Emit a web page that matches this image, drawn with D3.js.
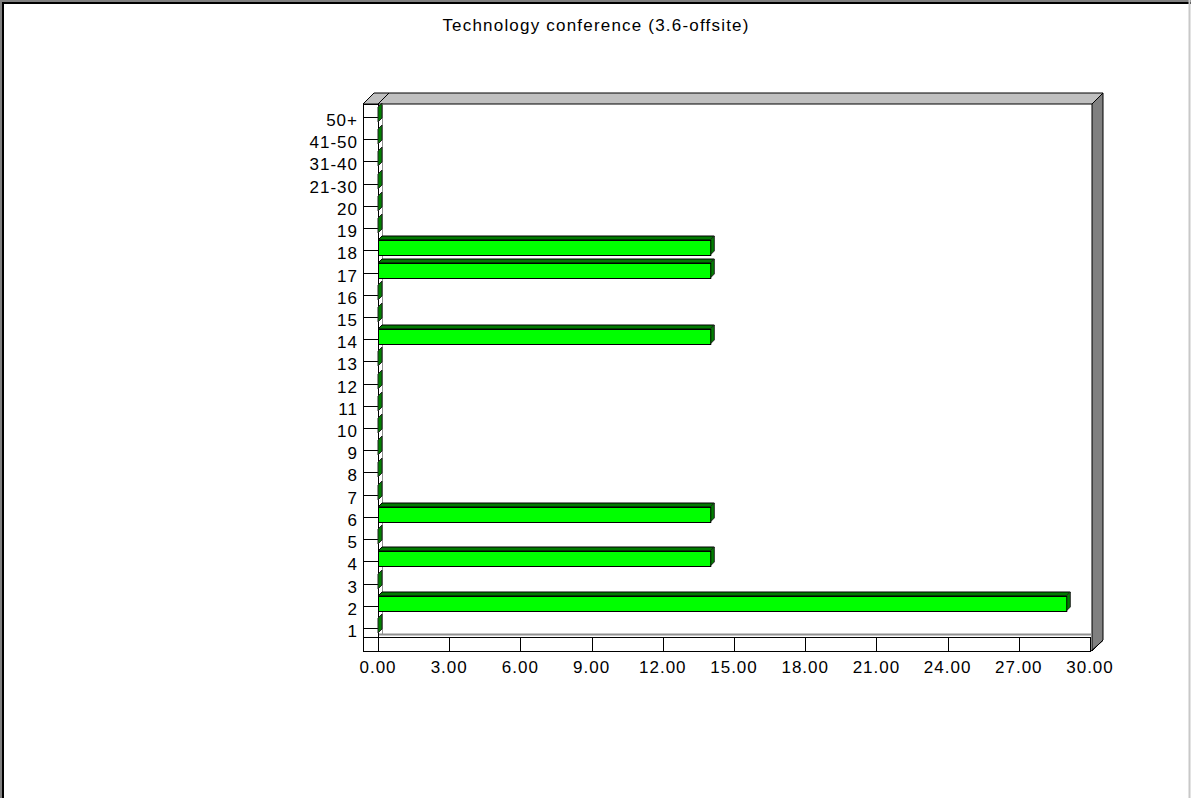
<!DOCTYPE html>
<html>
<head>
<meta charset="utf-8">
<script src="https://cdn.jsdelivr.net/npm/d3@7"></script>
<style>
  html, body { margin: 0; padding: 0; background: #ffffff; }
  svg { display: block; }
  text { font-family: "Liberation Sans", Arial, sans-serif; fill: #000; }
</style>
</head>
<body>
<svg id="chart" width="1191" height="798"></svg>
<script>
// ---- data ----
const title = "Technology conference (3.6-offsite)";
const categories = ["1","2","3","4","5","6","7","8","9","10","11","12","13","14","15","16","17","18","19","20","21-30","31-40","41-50","50+"];
const values = [0, 29, 0, 14, 0, 14, 0, 0, 0, 0, 0, 0, 0, 14, 0, 0, 14, 14, 0, 0, 0, 0, 0, 0];
const xTicks = [0, 3, 6, 9, 12, 15, 18, 21, 24, 27, 30];

// ---- layout ----
const W = 1191, H = 798;
const frontLeft = 363, zeroX = 378, frontRight = 1090;
const frontTop = 104, plotBottom = 637, frontBottom = 651;
const D = 11;      // frame depth
const bd = 4;      // bar depth

const svg = d3.select("#chart");

const x = d3.scaleLinear().domain([0, 30]).range([zeroX, frontRight]);
const y = d3.scalePoint().domain(categories).range([628, 117]);

// page border
svg.append("line").attr("x1", 1).attr("y1", 0).attr("x2", 1).attr("y2", H).attr("stroke", "#808080").attr("stroke-width", 2);
svg.append("line").attr("x1", 3).attr("y1", 2).attr("x2", 3).attr("y2", H).attr("stroke", "#000").attr("stroke-width", 2);
svg.append("line").attr("x1", 0).attr("y1", 1).attr("x2", W).attr("y2", 1).attr("stroke", "#808080").attr("stroke-width", 2);
svg.append("line").attr("x1", 2).attr("y1", 3).attr("x2", W).attr("y2", 3).attr("stroke", "#000").attr("stroke-width", 2);
svg.append("line").attr("x1", W - 1.5).attr("y1", 0).attr("x2", W - 1.5).attr("y2", H).attr("stroke", "#c8c8c8").attr("stroke-width", 2);

// title
svg.append("text").attr("x", 596).attr("y", 31).attr("text-anchor", "middle")
  .style("font-size", "17px").style("letter-spacing", "1.2px").text(title);

const line = d3.line();

// top face of the frame
svg.append("path")
  .attr("d", line([[frontLeft, frontTop], [frontLeft + D, frontTop - D], [frontRight + 2 + D, frontTop - D], [frontRight + 2, frontTop]]) + "Z")
  .attr("fill", "#c0c0c0").attr("stroke", "#000").attr("stroke-width", 1);
svg.append("path").attr("d", line([[zeroX, frontTop], [zeroX + D, frontTop - D]]))
  .attr("stroke", "#000").attr("fill", "none");

// right wall
svg.append("path")
  .attr("d", line([[frontRight + 2, frontTop], [frontRight + 2 + D, frontTop - D], [frontRight + 2 + D, frontBottom - D], [frontRight + 2, frontBottom]]) + "Z")
  .attr("fill", "#808080").attr("stroke", "#000").attr("stroke-width", 1);

// back wall edges (gray)
svg.append("line").attr("x1", zeroX + bd + 0.5).attr("y1", frontTop).attr("x2", zeroX + bd + 0.5).attr("y2", plotBottom - 2)
  .attr("stroke", "#909090");
svg.append("line").attr("x1", zeroX).attr("y1", plotBottom - 2.5).attr("x2", frontRight + 2).attr("y2", plotBottom - 2.5)
  .attr("stroke", "#909090").attr("stroke-width", 2);

// left category strip
svg.append("rect").attr("x", frontLeft + 0.5).attr("y", frontTop + 0.5)
  .attr("width", zeroX - frontLeft).attr("height", frontBottom - frontTop)
  .attr("fill", "#fff").attr("stroke", "#000");
svg.append("g").selectAll("line").data(categories).join("line")
  .attr("x1", frontLeft).attr("x2", zeroX)
  .attr("y1", d => Math.round(y(d)) + 0.5).attr("y2", d => Math.round(y(d)) + 0.5)
  .attr("stroke", "#000");

// bottom value strip
svg.append("rect").attr("x", frontLeft + 0.5).attr("y", plotBottom + 0.5)
  .attr("width", frontRight - frontLeft).attr("height", frontBottom - plotBottom)
  .attr("fill", "#fff").attr("stroke", "#000");
svg.append("path").attr("d", line([[frontRight + 0.5, frontBottom + 0.5], [frontRight + 2 + D, frontBottom - D + 0.5]]))
  .attr("stroke", "#000").attr("fill", "none");
svg.append("g").selectAll("line").data(xTicks).join("line")
  .attr("x1", d => Math.round(x(d)) + 0.5).attr("x2", d => Math.round(x(d)) + 0.5)
  .attr("y1", plotBottom).attr("y2", frontBottom)
  .attr("stroke", "#000");

// bars (3D)
const bars = svg.append("g").selectAll("g").data(categories).join("g");
bars.each(function (c, i) {
  const g = d3.select(this);
  const t = Math.round(y(c));
  const x0 = x(0), x1 = x(values[i]);
  const top = t - 10, bot = t + 5;
  // top face
  g.append("path")
    .attr("d", line([[x0, top], [x0 + bd, top - bd], [x1 + bd, top - bd], [x1, top]]) + "Z")
    .attr("fill", "#007a00").attr("stroke", "#000").attr("stroke-width", 1);
  // right face
  g.append("path")
    .attr("d", line([[x1, top], [x1 + bd, top - bd], [x1 + bd, bot - bd], [x1, bot]]) + "Z")
    .attr("fill", "#008000").attr("stroke", "#222").attr("stroke-width", 1);
  // front face
  if (values[i] > 0) {
    g.append("rect").attr("x", x0 + 0.5).attr("y", top + 0.5)
      .attr("width", x1 - x0).attr("height", bot - top)
      .attr("fill", "#00ff00").attr("stroke", "#000");
  }
});

// category labels
svg.append("g").selectAll("text").data(categories).join("text")
  .attr("x", 358).attr("y", d => Math.round(y(d)) + 9)
  .attr("text-anchor", "end")
  .style("font-size", "17px").style("letter-spacing", "1px")
  .text(d => d);

// value labels
svg.append("g").selectAll("text").data(xTicks).join("text")
  .attr("x", d => x(d)).attr("y", 673)
  .attr("text-anchor", "middle")
  .style("font-size", "17px").style("letter-spacing", "1px")
  .text(d => d3.format(".2f")(d));
</script>
</body>
</html>
